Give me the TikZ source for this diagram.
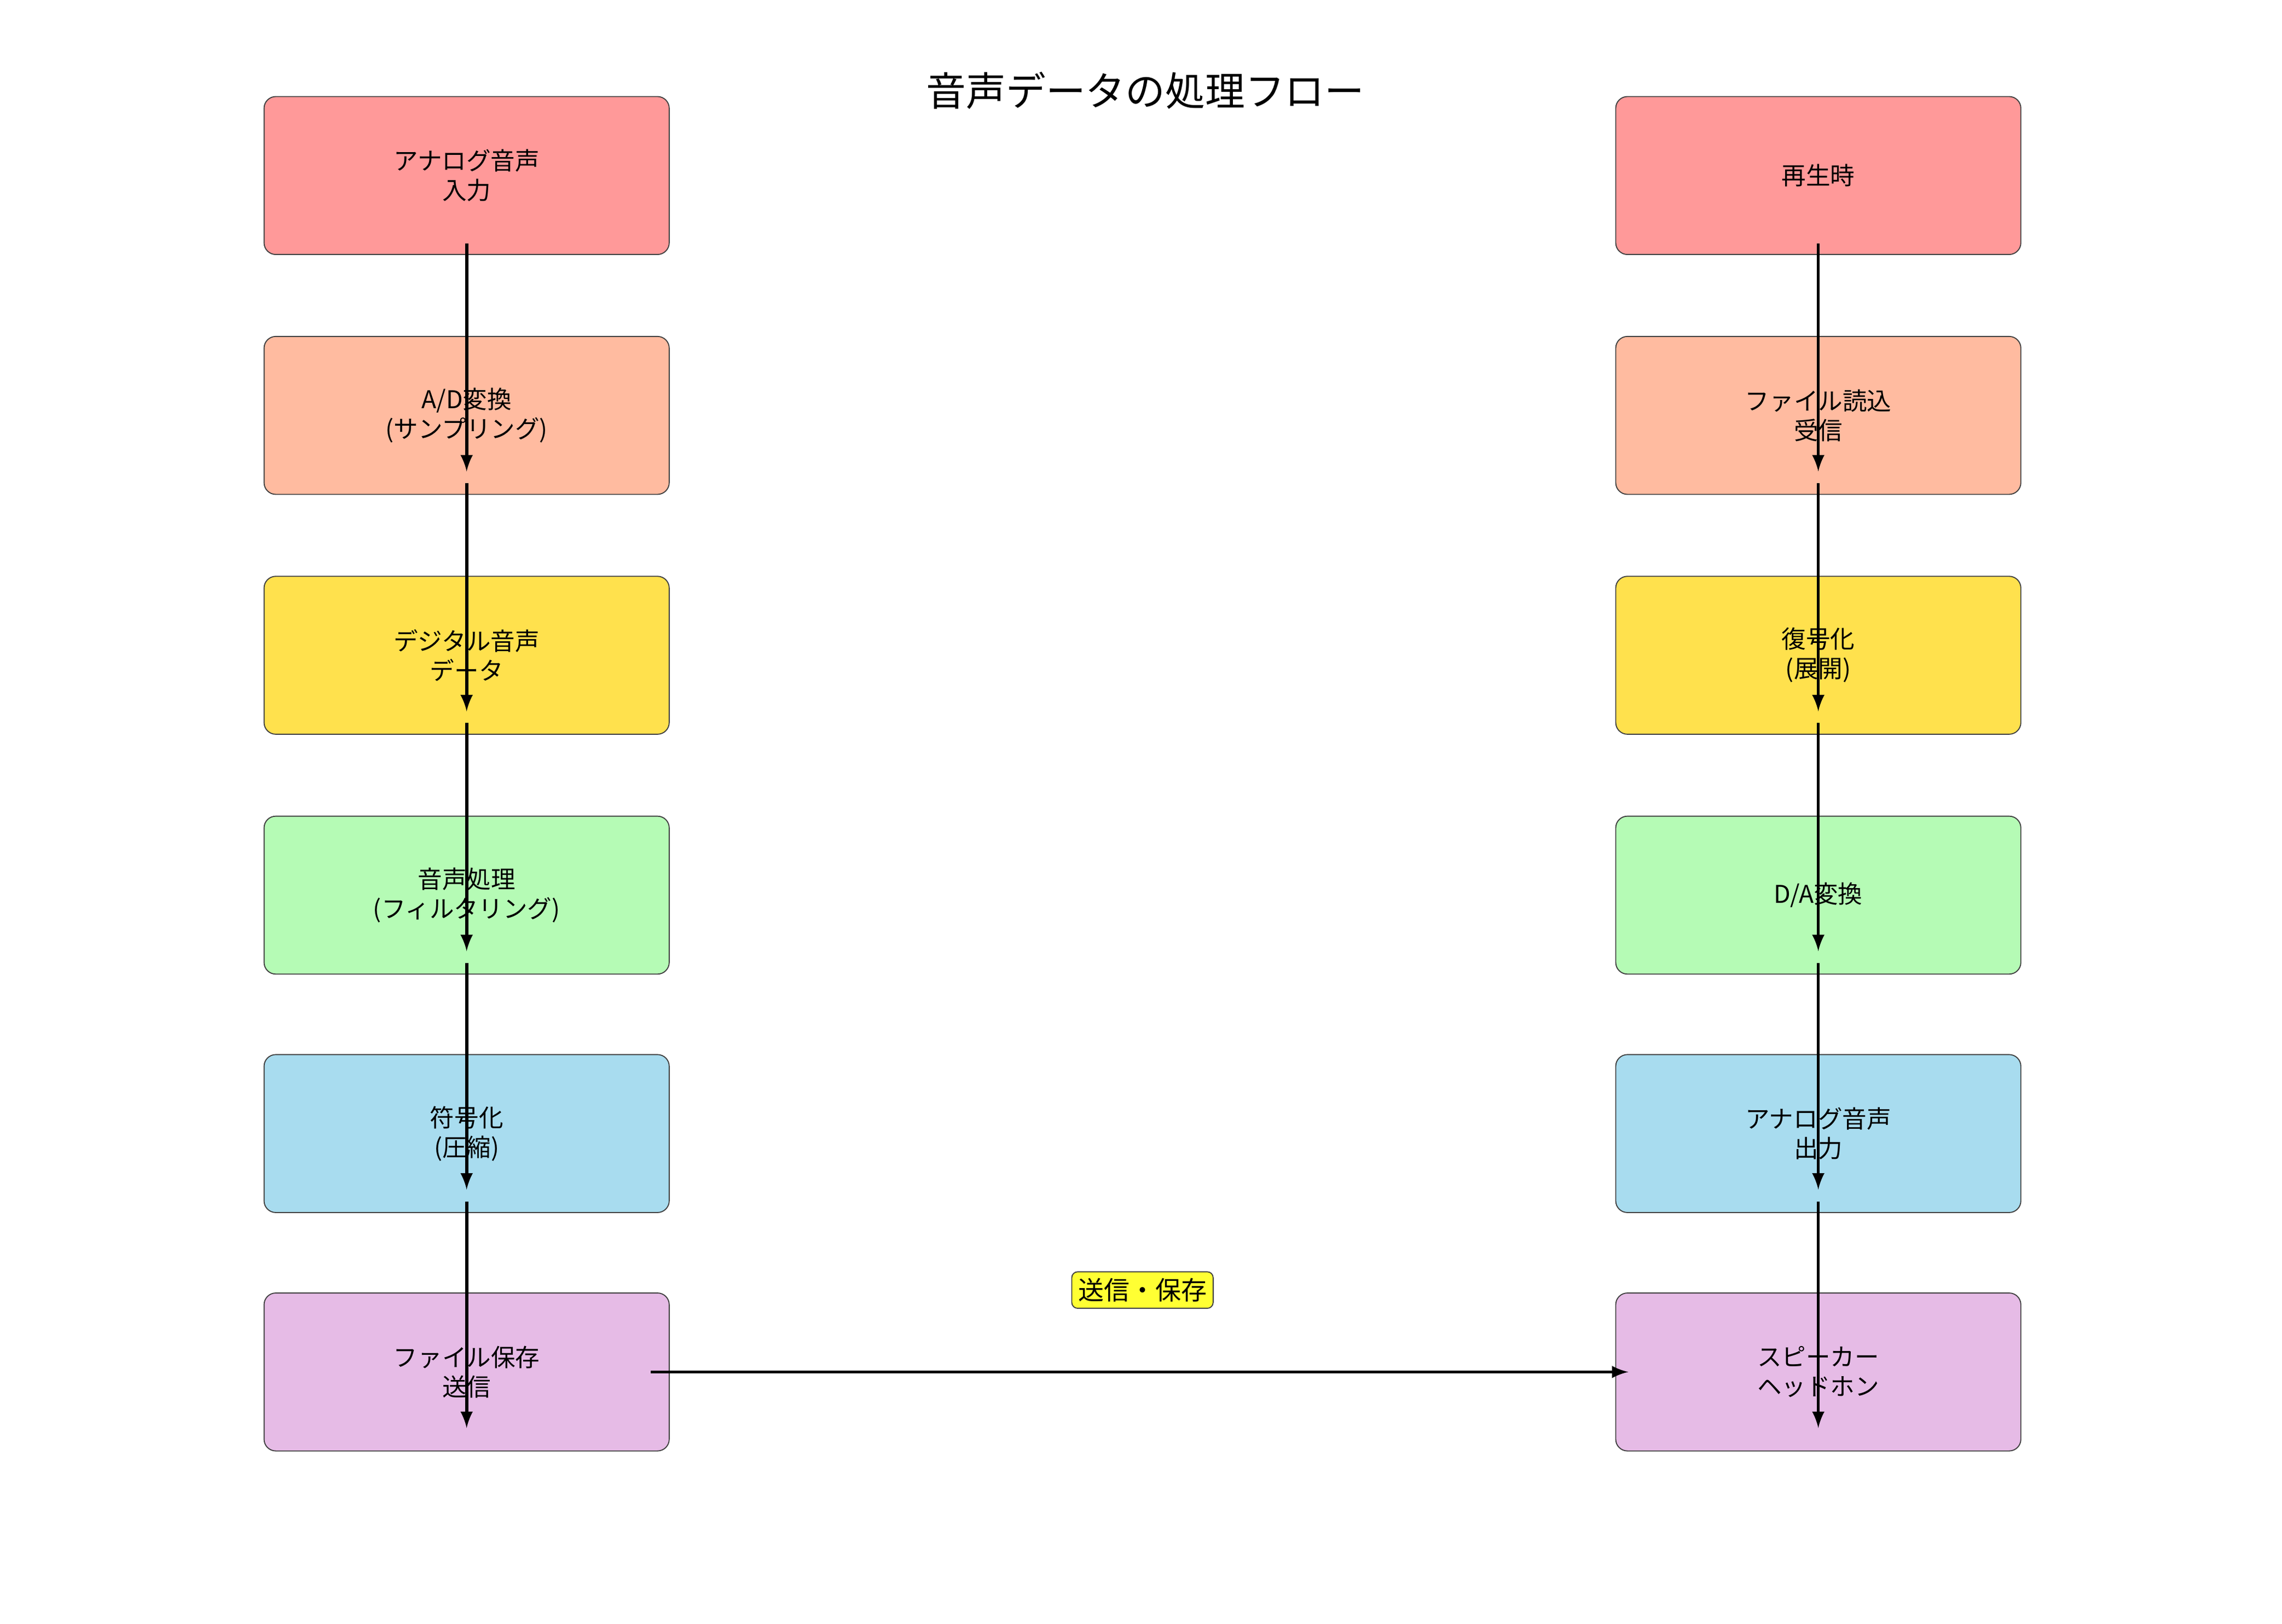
\documentclass[tikz,border=0pt]{standalone}
\usepackage{fontspec}
\setmainfont{Noto Sans CJK JP}
\usetikzlibrary{calc}
\definecolor{cRed}{HTML}{FF9999}
\definecolor{cOrange}{HTML}{FFBBA0}
\definecolor{cYellow}{HTML}{FFE14D}
\definecolor{cGreen}{HTML}{B5FBB5}
\definecolor{cBlue}{HTML}{A8DCEF}
\definecolor{cPurple}{HTML}{E6BBE6}
\definecolor{cLabel}{HTML}{FFFF33}
\begin{document}
\begin{tikzpicture}
[boxDecorate/.style={draw=black!75,rounded corners=0.16cm,minimum width=5.54cm,
   minimum height=2.16cm,align=center,font=\fontsize{9.5}{11.5}\selectfont},
  arrowDecorate/.style={-latex,line width=1.2pt},
  x=0.02cm,y=-0.02cm]
\path[use as bounding box] (0,0) rectangle (1560,1110);
\node (title) at (783,62) {\fontsize{15.5}{18}\selectfont 音声データの処理フロー};
%% left column
\foreach \nodename/\y/\col/\txt in {
  l1/120/cRed/{アナログ音声\\入力},
  l2/284/cOrange/{A/D変換\\(サンプリング)},
  l3/448/cYellow/{デジタル音声\\データ},
  l4/612/cGreen/{音声処理\\(フィルタリング)},
  l5/775/cBlue/{符号化\\(圧縮)},
  l6/938/cPurple/{ファイル保存\\送信}}
{
  \node (\nodename) at (319,\y) [boxDecorate,fill=\col] {\txt};
}
%% right column
\foreach \nodename/\y/\col/\txt in {
  r1/120/cRed/{再生時},
  r2/284/cOrange/{ファイル読込\\受信},
  r3/448/cYellow/{復号化\\(展開)},
  r4/612/cGreen/{D/A変換},
  r5/775/cBlue/{アナログ音声\\出力},
  r6/938/cPurple/{スピーカー\\ヘッドホン}}
{
  \node (\nodename) at (1243,\y) [boxDecorate,fill=\col] {\txt};
}
%% arrows
\foreach \startnode/\endnode in {l1/l2, l2/l3, l3/l4, l4/l5, l5/l6, r1/r2, r2/r3, r3/r4, r4/r5, r5/r6}
{
  \draw[arrowDecorate] ($(\startnode.south)+(0,-8)$) -- ($(\endnode.south)+(0,-16)$);
}
\draw[arrowDecorate] ($(l6.east)+(-13,0)$) -- ($(r6.west)+(9,0)$);
\node (send) at (781,882) [draw=black!75,fill=cLabel,rounded corners=0.08cm,inner sep=2.5pt,
  font=\fontsize{10}{12}\selectfont] {送信・保存};
\end{tikzpicture}
\end{document}
